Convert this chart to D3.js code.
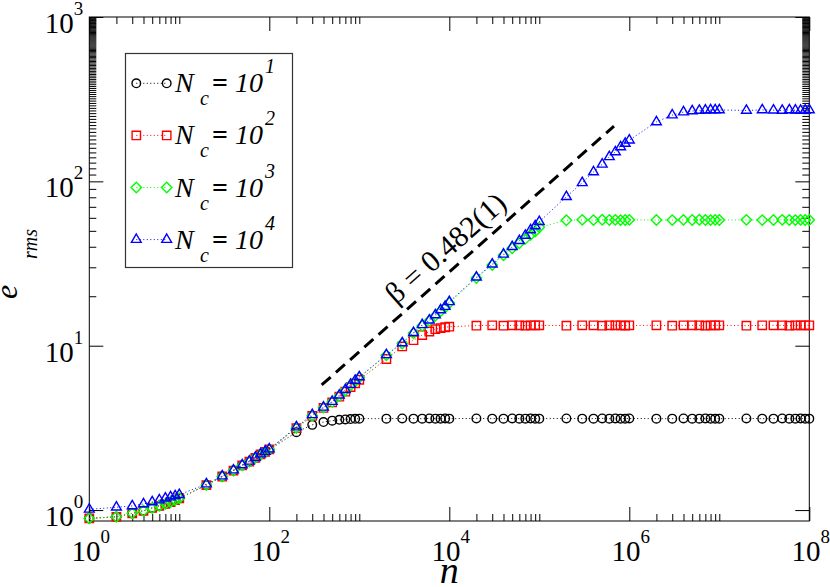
<!DOCTYPE html>
<html>
<head>
<meta charset="utf-8">
<script src="https://cdn.jsdelivr.net/npm/d3@7"></script>
<style>
  body { margin: 0; background: #fff; }
  svg text { font-family: "Liberation Serif", "Times New Roman", serif; fill: #000; }
</style>
</head>
<body>
<svg id="chart" width="830" height="587" font-family="Liberation Serif"></svg>
<script>
// sample points n = k * 10^j
var nValues = [1, 2, 3, 4, 5, 6, 7, 8, 9,
  10, 20, 30, 40, 50, 60, 70, 80, 90,
  100, 200, 300, 400, 500, 600, 700, 800, 900,
  1e3, 2e3, 3e3, 4e3, 5e3, 6e3, 7e3, 8e3, 9e3,
  1e4, 2e4, 3e4, 4e4, 5e4, 6e4, 7e4, 8e4, 9e4,
  1e5, 2e5, 3e5, 4e5, 5e5, 6e5, 7e5, 8e5, 9e5,
  1e6, 2e6, 3e6, 4e6, 5e6, 6e6, 7e6, 8e6, 9e6,
  1e7, 2e7, 3e7, 4e7, 5e7, 6e7, 7e7, 8e7, 9e7,
  1e8];

// e_rms for Nc = 10
var ermsNc1 = [0.89, 0.91, 0.955, 0.99, 1.03, 1.06, 1.09, 1.12, 1.15,
  1.18, 1.42, 1.60, 1.74, 1.87, 1.97, 2.08, 2.18, 2.26,
  2.33, 2.98, 3.30, 3.43, 3.50, 3.54, 3.56, 3.58, 3.59,
  3.60, 3.60, 3.61, 3.60, 3.60, 3.61, 3.60, 3.60, 3.61,
  3.60, 3.61, 3.60, 3.60, 3.61, 3.60, 3.60, 3.61, 3.60,
  3.60, 3.61, 3.60, 3.60, 3.61, 3.60, 3.61, 3.60, 3.60,
  3.61, 3.60, 3.60, 3.61, 3.60, 3.60, 3.61, 3.60, 3.60,
  3.60, 3.61, 3.60, 3.60, 3.61, 3.60, 3.60, 3.61, 3.60,
  3.60];

// e_rms for Nc = 100
var ermsNc2 = [0.89, 0.91, 0.955, 0.99, 1.03, 1.06, 1.09, 1.12, 1.15,
  1.18, 1.42, 1.60, 1.74, 1.87, 1.97, 2.08, 2.18, 2.26,
  2.34, 3.15, 3.74, 4.18, 4.52, 4.9, 5.25, 5.6, 5.9,
  6.2, 8.3, 9.9, 10.8, 11.6, 12.2, 12.6, 12.8, 12.95,
  13.05, 13.25, 13.3, 13.25, 13.3, 13.3, 13.25, 13.3, 13.3,
  13.3, 13.25, 13.3, 13.3, 13.25, 13.3, 13.3, 13.3, 13.25,
  13.3, 13.3, 13.25, 13.3, 13.3, 13.3, 13.25, 13.3, 13.3,
  13.3, 13.25, 13.3, 13.3, 13.3, 13.25, 13.3, 13.3, 13.3,
  13.3];

// e_rms for Nc = 1000
var ermsNc3 = [0.89, 0.91, 0.955, 0.99, 1.03, 1.06, 1.09, 1.12, 1.15,
  1.18, 1.42, 1.60, 1.74, 1.87, 1.97, 2.08, 2.18, 2.26,
  2.34, 3.15, 3.75, 4.2, 4.55, 4.95, 5.35, 5.75, 6.05,
  6.4, 8.75, 10.3, 11.9, 13.2, 14.2, 15.2, 16.2, 17.1,
  18.2, 25.8, 31.0, 35.5, 39.2, 42.0, 44.8, 47.3, 49.5,
  52.5, 58.0, 58.3, 58.1, 58.4, 58.2, 58.3, 58.1, 58.2,
  58.3, 58.2, 58.1, 58.3, 58.2, 58.4, 58.2, 58.1, 58.3,
  58.2, 58.3, 58.1, 58.2, 58.3, 58.2, 58.1, 58.3, 58.2,
  58.2];

// e_rms for Nc = 10000
var ermsNc4 = [1.01, 1.04, 1.06, 1.09, 1.12, 1.15, 1.18, 1.20, 1.22,
  1.24, 1.44, 1.61, 1.75, 1.88, 1.98, 2.09, 2.19, 2.27,
  2.35, 3.2, 3.8, 4.22, 4.57, 5.0, 5.4, 5.8, 6.15,
  6.45, 8.8, 10.4, 12.0, 13.4, 14.3, 15.4, 16.5, 17.3,
  18.5, 26.1, 31.3, 36.0, 40.0, 43.5, 46.9, 50.6, 53.5,
  56.8, 80.6, 98, 114, 127, 141, 151, 162, 170,
  178, 230, 253, 264, 268, 270, 271, 272, 272,
  272, 270, 272, 271, 270, 272, 271, 270, 271,
  272];

var seriesExponents = ["1", "2", "3", "4"];
var seriesColors = ["#000000", "#ff0000", "#00ff00", "#0000ff"];
var seriesSymbols = ["circle", "square", "diamond", "triangle"];
var seriesValues = [ermsNc1, ermsNc2, ermsNc3, ermsNc4];

// guide line with slope beta
var fitLine = [[382, 5.77], [6.76e5, 217]];
var fitLabel = "\u03b2 = 0.482(1)";

var xDomain = [1, 1e8];
var yDomain = [0.858, 1000];
var xMajorTicks = [1, 1e2, 1e4, 1e6, 1e8];
var xTickExponents = ["0", "2", "4", "6", "8"];
var yMajorTicks = [1, 10, 100, 1000];
var yTickExponents = ["0", "1", "2", "3"];

var margin = {top: 17, right: 20.7, bottom: 66, left: 89.3};
var width = 830 - margin.left - margin.right;
var height = 587 - margin.top - margin.bottom;

var svg = d3.select("#chart");
var g = svg.append("g")
  .attr("transform", "translate(" + margin.left + "," + margin.top + ")");

var x = d3.scaleLog().domain(xDomain).range([0, width]);
var y = d3.scaleLog().domain(yDomain).range([height, 0]);

// minor ticks: x only in the even decades (2..10 x 10^2k), y in every decade
var xMinor = x.ticks(100).filter(function (v){
  var e = Math.round(Math.log10(v) * 1e6) / 1e6;
  var f = Math.floor(e);
  if (xMajorTicks.indexOf(v) >= 0) return false;
  return f % 2 === 0 || e === f;
});
var yMinor = y.ticks(100).filter(function (v){
  return v >= 1 && yMajorTicks.indexOf(v) < 0;
});

function ticks(axisFn, scale, values, size, transform){
  g.append("g")
    .attr("transform", transform)
    .call(axisFn(scale).tickValues(values).tickSize(size).tickFormat(""))
    .call(function (s){
      s.select(".domain").remove();
      s.selectAll("line").attr("stroke", "#000").attr("stroke-width", 1);
    });
}

ticks(d3.axisBottom, x, xMajorTicks, -14, "translate(0," + height + ")");
ticks(d3.axisBottom, x, xMinor, -7, "translate(0," + height + ")");
ticks(d3.axisTop, x, xMajorTicks, -14, "translate(0,0)");
ticks(d3.axisTop, x, xMinor, -7, "translate(0,0)");
ticks(d3.axisLeft, y, yMajorTicks, -14, "translate(0,0)");
ticks(d3.axisLeft, y, yMinor, -7, "translate(0,0)");
ticks(d3.axisRight, y, yMajorTicks, -14, "translate(" + width + ",0)");
ticks(d3.axisRight, y, yMinor, -7, "translate(" + width + ",0)");

g.append("rect")
  .attr("width", width).attr("height", height)
  .attr("fill", "none").attr("stroke", "#000").attr("stroke-width", 1);

// tick labels 10^k
xMajorTicks.forEach(function (v, i){
  var t = g.append("text")
    .attr("x", x(v) + 1.5).attr("y", height + 40)
    .attr("text-anchor", "middle");
  t.append("tspan").style("font-size", "29px").text("10");
  t.append("tspan").style("font-size", "19px").attr("dy", -18).text(xTickExponents[i]);
});
yMajorTicks.forEach(function (v, i){
  var t = g.append("text")
    .attr("x", -6).attr("y", y(v) + 16)
    .attr("text-anchor", "end");
  t.append("tspan").style("font-size", "29px").text("10");
  t.append("tspan").style("font-size", "19px").attr("dy", -18).text(yTickExponents[i]);
});

// axis titles
svg.append("text")
  .attr("x", margin.left + width / 2).attr("y", 583)
  .attr("text-anchor", "middle")
  .style("font-size", "38px").style("font-style", "italic")
  .text("n");
svg.append("text")
  .attr("transform", "translate(17,299) rotate(-90)")
  .style("font-size", "32px").style("font-style", "italic")
  .text("e");
svg.append("text")
  .attr("transform", "translate(37,259) rotate(-90)")
  .style("font-size", "20px").style("font-style", "italic")
  .text("rms");

// marker shapes
function symbolPath(name){
  if (name === "circle") return "M4.3,0A4.3,4.3 0 1,1 -4.3,0A4.3,4.3 0 1,1 4.3,0Z";
  if (name === "square") return "M-4.2,-4.2h8.4v8.4h-8.4Z";
  if (name === "diamond") return "M0,-5.2L5.2,0L0,5.2L-5.2,0Z";
  return "M0,-5.6L4.9,2.8L-4.9,2.8Z";
}

var line = d3.line()
  .x(function (d){ return x(d[0]); })
  .y(function (d){ return y(d[1]); });

seriesValues.forEach(function (vals, i){
  var pts = nValues.map(function (n, j){ return [n, vals[j]]; });
  var sg = g.append("g");
  sg.append("path")
    .attr("d", line(pts))
    .attr("fill", "none")
    .attr("stroke", seriesColors[i])
    .attr("stroke-width", 1)
    .attr("stroke-dasharray", "1,2.5");
  sg.selectAll("path.mark").data(pts).enter().append("path")
    .attr("class", "mark")
    .attr("transform", function (d){ return "translate(" + x(d[0]) + "," + y(d[1]) + ")"; })
    .attr("d", symbolPath(seriesSymbols[i]))
    .attr("fill", "none")
    .attr("stroke", seriesColors[i])
    .attr("stroke-width", 1.4);
});

// dashed guide line and its label
g.append("path")
  .attr("d", line(fitLine))
  .attr("fill", "none")
  .attr("stroke", "#000")
  .attr("stroke-width", 3)
  .attr("stroke-dasharray", "12,7");

var p0 = [x(fitLine[0][0]), y(fitLine[0][1])];
var p1 = [x(fitLine[1][0]), y(fitLine[1][1])];
var len = Math.hypot(p1[0] - p0[0], p1[1] - p0[1]);
var ux = (p1[0] - p0[0]) / len, uy = (p1[1] - p0[1]) / len;
var angle = Math.atan2(uy, ux) * 180 / Math.PI;
var along = len * 0.47, off = 21;
var lx = p0[0] + ux * along + uy * off;
var ly = p0[1] + uy * along - ux * off;
g.append("text")
  .attr("transform", "translate(" + lx + "," + ly + ") rotate(" + angle + ")")
  .attr("text-anchor", "middle")
  .attr("dy", "0.35em")
  .style("font-size", "30px")
  .text(fitLabel);

// legend
var legend = svg.append("g");
legend.append("rect")
  .attr("x", 125.5).attr("y", 53.5).attr("width", 167).attr("height", 214)
  .attr("fill", "#fff").attr("stroke", "#333").attr("stroke-width", 1.2);

seriesExponents.forEach(function (ex, i){
  var cy = 83.3 + i * 52.1;
  legend.append("line")
    .attr("x1", 136.3).attr("x2", 166.7).attr("y1", cy).attr("y2", cy)
    .attr("stroke", seriesColors[i]).attr("stroke-width", 1)
    .attr("stroke-dasharray", "1,2.5");
  [136.3, 166.7].forEach(function (mx){
    legend.append("path")
      .attr("transform", "translate(" + mx + "," + cy + ")")
      .attr("d", symbolPath(seriesSymbols[i]))
      .attr("fill", "none")
      .attr("stroke", seriesColors[i])
      .attr("stroke-width", 1.4);
  });
  var t = legend.append("text").attr("y", cy + 9);
  t.append("tspan").attr("x", 175).style("font-size", "28px").style("font-style", "italic").text("N");
  t.append("tspan").attr("x", 200).attr("dy", 13).style("font-size", "20px").style("font-style", "italic").text("c");
  t.append("tspan").attr("x", 212).attr("dy", -13).style("font-size", "28px").style("font-weight", "bold").text("=");
  t.append("tspan").attr("x", 235).style("font-size", "28px").style("font-style", "italic").text("10");
  t.append("tspan").attr("x", 265).attr("dy", -19).style("font-size", "20px").style("font-style", "italic").text(ex);
});
</script>
</body>
</html>
